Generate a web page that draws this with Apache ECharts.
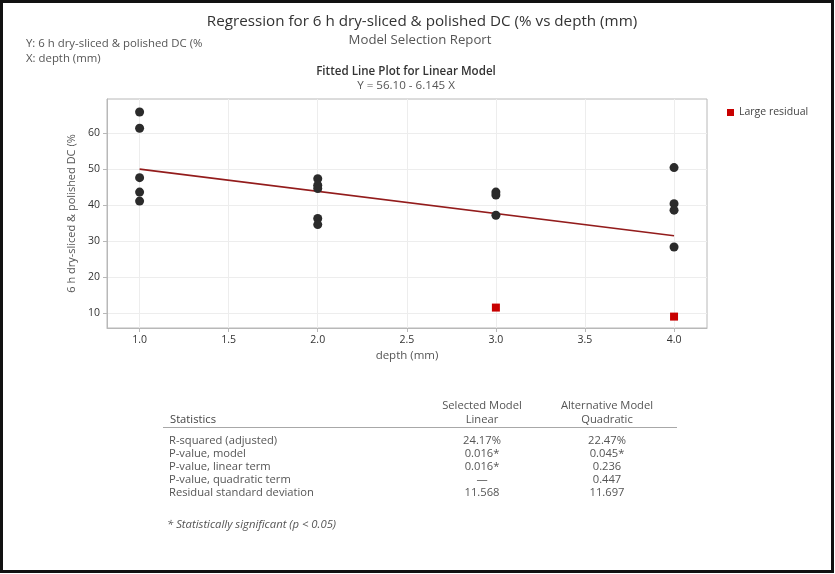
<!DOCTYPE html>
<html>
<head>
<meta charset="utf-8">
<script src="https://cdn.jsdelivr.net/npm/echarts@6/dist/echarts.min.js"></script>
<style>
html,body{margin:0;padding:0;background:#fff;}
#c{width:835px;height:574px;}
</style>
</head>
<body>
<div id="c"></div>
<script>
// ---- data ----
const depthX = [1, 1, 1, 1, 1, 2, 2, 2, 2, 2, 3, 3, 3, 4, 4, 4, 4];
const dcY = [65.8, 61.3, 47.6, 43.6, 41.1, 47.3, 45.5, 44.6, 36.3, 34.6, 43.6, 42.8, 37.2, 50.4, 40.4, 38.6, 28.4];
const residX = [3, 4];
const residY = [11.6, 9.1];
const fitX = [1, 4];
const fitY = [49.96, 31.52];
const xTicks = [1.0, 1.5, 2.0, 2.5, 3.0, 3.5, 4.0];
const yTicks = [10, 20, 30, 40, 50, 60];
const statLabels = ['R-squared (adjusted)', 'P-value, model', 'P-value, linear term', 'P-value, quadratic term', 'Residual standard deviation'];
const linearVals = ['24.17%', '0.016*', '0.016*', '—', '11.568'];
const quadVals = ['22.47%', '0.045*', '0.236', '0.447', '11.697'];

const FF = '"Open Sans", "Noto Sans", sans-serif';
const chart = echarts.init(document.getElementById('c'));

const pts = depthX.map((x, i) => [x, dcY[i]]);
const res = residX.map((x, i) => [x, residY[i]]);
const fit = fitX.map((x, i) => [x, fitY[i]]);

const rowY = [441, 454, 467, 480, 493];
const TF = '11.2px ' + FF;
const g = [];
g.push({type: 'rect', shape: {x: 1.5, y: 1.5, width: 831, height: 570}, style: {fill: 'none', stroke: '#111', lineWidth: 3}, silent: true});
g.push({type: 'text', x: 422, y: 22, style: {text: 'Regression for 6 h dry-sliced & polished DC (% vs depth (mm)', font: '15.2px ' + FF, fill: '#333', align: 'center', verticalAlign: 'middle'}});
g.push({type: 'text', x: 420, y: 40, style: {text: 'Model Selection Report', font: '13.2px ' + FF, fill: '#555', align: 'center', verticalAlign: 'middle'}});
g.push({type: 'text', x: 26, y: 44, style: {text: 'Y: 6 h dry-sliced & polished DC (%', font: '11.4px ' + FF, fill: '#555', align: 'left', verticalAlign: 'middle'}});
g.push({type: 'text', x: 26, y: 59, style: {text: 'X: depth (mm)', font: '11.4px ' + FF, fill: '#555', align: 'left', verticalAlign: 'middle'}});
g.push({type: 'text', x: 406, y: 72, style: {text: 'Fitted Line Plot for Linear Model', font: '600 11.6px ' + FF, fill: '#333', align: 'center', verticalAlign: 'middle'}});
g.push({type: 'text', x: 406, y: 86, style: {text: 'Y = 56.10 - 6.145 X', font: '11.6px ' + FF, fill: '#555', align: 'center', verticalAlign: 'middle'}});
// table
g.push({type: 'text', x: 482, y: 406, style: {text: 'Selected Model', font: TF, fill: '#555', align: 'center', verticalAlign: 'middle'}});
g.push({type: 'text', x: 482, y: 420, style: {text: 'Linear', font: TF, fill: '#555', align: 'center', verticalAlign: 'middle'}});
g.push({type: 'text', x: 607, y: 406, style: {text: 'Alternative Model', font: TF, fill: '#555', align: 'center', verticalAlign: 'middle'}});
g.push({type: 'text', x: 607, y: 420, style: {text: 'Quadratic', font: TF, fill: '#555', align: 'center', verticalAlign: 'middle'}});
g.push({type: 'text', x: 170, y: 420, style: {text: 'Statistics', font: TF, fill: '#444', align: 'left', verticalAlign: 'middle'}});
g.push({type: 'line', shape: {x1: 163, y1: 427.5, x2: 677, y2: 427.5}, style: {stroke: '#a8a8a8', lineWidth: 1}});
statLabels.forEach((s, i) => {
  g.push({type: 'text', x: 169, y: rowY[i], style: {text: s, font: TF, fill: '#555', align: 'left', verticalAlign: 'middle'}});
  g.push({type: 'text', x: 482, y: rowY[i], style: {text: linearVals[i], font: TF, fill: '#555', align: 'center', verticalAlign: 'middle'}});
  g.push({type: 'text', x: 607, y: rowY[i], style: {text: quadVals[i], font: TF, fill: '#555', align: 'center', verticalAlign: 'middle'}});
});
g.push({type: 'text', x: 167, y: 525, style: {text: '* Statistically significant (p < 0.05)', font: 'italic 11.3px ' + FF, fill: '#555', align: 'left', verticalAlign: 'middle'}});

chart.setOption({
  animation: false,
  backgroundColor: '#fff',
  grid: {left: 107, top: 99, right: 128, bottom: 246, show: true, borderColor: '#b8b8b8', borderWidth: 1, containLabel: false},
  legend: {
    data: [{name: 'Large residual', icon: 'rect'}],
    left: 722, top: 102, itemWidth: 7, itemHeight: 7, itemGap: 6,
    textStyle: {fontFamily: FF, fontSize: 10.5, color: '#444'}
  },
  xAxis: {
    type: 'value', min: 0.817, max: 4.185,
    name: 'depth (mm)', nameLocation: 'middle', nameGap: 22,
    nameTextStyle: {fontFamily: FF, fontSize: 11.5, color: '#555'},
    axisLine: {show: true, lineStyle: {color: '#b8b8b8'}},
    axisTick: {show: true, length: 4, lineStyle: {color: '#b8b8b8'}, customValues: xTicks},
    axisLabel: {customValues: xTicks, formatter: v => v.toFixed(1), margin: 7, fontFamily: FF, fontSize: 10.5, color: '#333'},
    splitLine: {show: true, lineStyle: {color: '#ededed'}}
  },
  yAxis: {
    type: 'value', min: 5.94, max: 69.4,
    name: '6 h dry-sliced & polished DC (%', nameLocation: 'middle', nameGap: 28,
    nameTextStyle: {fontFamily: FF, fontSize: 11, color: '#555'},
    axisLine: {show: true, lineStyle: {color: '#b8b8b8'}},
    axisTick: {show: true, length: 4, lineStyle: {color: '#b8b8b8'}, customValues: yTicks},
    axisLabel: {customValues: yTicks, margin: 7, fontFamily: FF, fontSize: 10.5, color: '#333'},
    splitLine: {show: true, lineStyle: {color: '#ededed'}}
  },
  series: [
    {type: 'line', name: 'Fit', data: fit, showSymbol: false, symbol: 'none', lineStyle: {color: '#931c1c', width: 1.6}, z: 3, silent: true},
    {type: 'scatter', name: 'Data', data: pts, symbol: 'circle', symbolSize: 9, itemStyle: {color: '#2b2b2b', opacity: 1}, z: 4},
    {type: 'scatter', name: 'Large residual', data: res, symbol: 'rect', symbolSize: 8, itemStyle: {color: '#c80000', opacity: 1}, z: 4}
  ],
  graphic: g
});
</script>
</body>
</html>
